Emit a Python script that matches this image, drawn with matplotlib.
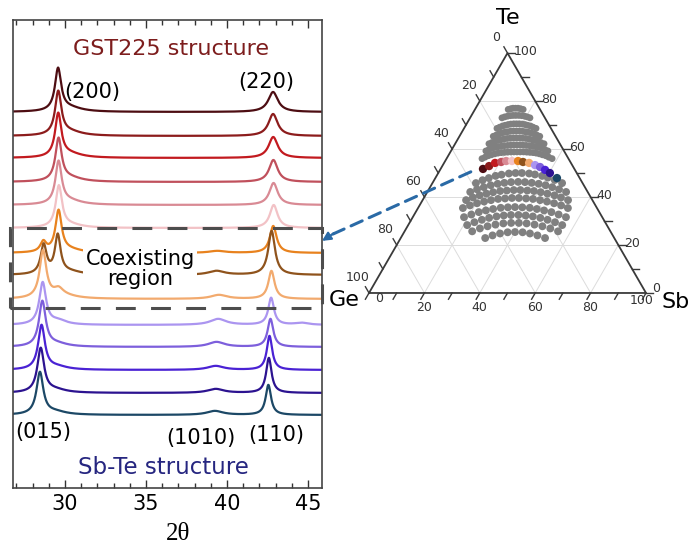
import numpy as np
import matplotlib.pyplot as plt
from matplotlib.patches import Rectangle, ConnectionPatch

# ---- XRD patterns, top (GST225 side) to bottom (Sb-Te side) ----
curve_colors = ['#4d0d12', '#8c1c1c', '#c21a1f', '#c0505c', '#d98a94', '#f2c2c6',
                '#e8821e', '#8f531c', '#f2aa6e',
                '#ab95f0', '#7d5fdc', '#4a22d4', '#2c1390', '#1c4866']
# vertical offset of each pattern (stacking)
curve_offsets = [376, 352, 330, 306, 283, 260, 235, 213, 189, 163, 141, 118, 95, 73]

# peaks of each pattern: position (2theta), height, half width
peak_pos = [
    [29.57, 30.3, 42.84],
    [29.58, 30.3, 42.84],
    [29.58, 30.3, 42.85],
    [29.60, 30.3, 42.86],
    [29.60, 30.3, 42.87],
    [29.62, 30.3, 42.88],
    [28.66, 29.60, 30.3, 39.4, 42.85],
    [28.68, 29.55, 30.3, 39.35, 42.75],
    [28.64, 29.60, 29.9, 39.5, 42.74],
    [28.62, 29.6, 39.45, 42.72, 44.6],
    [28.60, 29.5, 39.35, 42.68],
    [28.55, 29.5, 39.3, 42.62],
    [28.50, 29.4, 39.3, 42.58],
    [28.45, 29.4, 39.25, 42.55],
]
peak_height = [
    [42, 4, 20],
    [43, 4, 22],
    [43, 4, 21],
    [42, 4, 22],
    [42, 4, 22],
    [41, 3, 23],
    [10, 41, 3, 2, 27],
    [29, 38, 3, 4, 44],
    [47, 7, 3, 4, 28],
    [42, 4, 6, 27, 2],
    [45, 3, 5, 28],
    [44, 3, 4, 34],
    [44, 3, 4, 35],
    [42, 3, 4, 30],
]
peak_hwhm = [
    [0.23, 0.9, 0.36],
    [0.23, 0.9, 0.34],
    [0.23, 0.9, 0.34],
    [0.23, 0.9, 0.32],
    [0.23, 0.9, 0.31],
    [0.23, 0.9, 0.29],
    [0.22, 0.23, 0.9, 0.6, 0.25],
    [0.22, 0.21, 0.9, 0.6, 0.25],
    [0.25, 0.35, 1.0, 0.6, 0.23],
    [0.25, 0.6, 0.6, 0.21, 0.5],
    [0.25, 0.8, 0.6, 0.21],
    [0.25, 0.8, 0.6, 0.20],
    [0.25, 0.8, 0.6, 0.20],
    [0.25, 0.8, 0.6, 0.20],
]

x_major = [30, 35, 40, 45]

# ---- ternary map (at.% Sb, at.% Te) ----
# dense rows above the measured line
upper_sb_rows = [
    [12.0, 12.8, 13.5, 14.4, 15.3, 16.3, 17.4],
    [11.5, 12.3, 13.2, 14.1, 15.0, 16.0, 17.1, 18.2, 19.3, 20.4, 21.6],
    [11.9, 12.6, 13.4, 14.2, 15.1, 16.0, 17.0, 18.0, 19.0, 20.1, 21.2, 22.3, 23.5, 24.7, 26.0],
    [12.2, 13.0, 13.8, 14.6, 15.5, 16.4, 17.4, 18.4, 19.5, 20.6, 21.7, 22.8, 24.0, 25.2,
     26.5, 27.7, 29.0],
    [12.2, 13.0, 13.9, 14.8, 15.8, 16.7, 17.7, 18.7, 19.8, 20.9, 22.1, 23.2, 24.4, 25.6,
     26.9, 28.1, 29.4, 30.7, 32.1],
    [12.6, 13.4, 14.3, 15.2, 16.2, 17.2, 18.2, 19.3, 20.4, 21.5, 22.6, 23.7, 24.8, 26.0,
     27.2, 28.4, 29.6, 30.9, 32.3, 33.6, 35.0],
    [12.8, 13.6, 14.5, 15.4, 16.4, 17.4, 18.5, 19.6, 20.7, 21.8, 22.9, 24.0, 25.2, 26.4,
     27.6, 28.8, 30.0, 31.2, 32.5, 33.8, 35.2, 36.6, 38.1],
]
upper_te_rows = [
    [76.5, 76.8, 77.0, 77.0, 77.0, 76.8, 76.5],
    [73.0, 73.4, 73.7, 73.9, 74.0, 74.0, 74.0, 73.9, 73.7, 73.4, 73.0],
    [68.6, 69.1, 69.6, 69.9, 70.2, 70.4, 70.5, 70.5, 70.5, 70.4, 70.2, 69.9, 69.6, 69.1, 68.6],
    [65.3, 65.8, 66.3, 66.7, 67.0, 67.2, 67.4, 67.5, 67.5, 67.5, 67.4, 67.2, 67.0, 66.7,
     66.3, 65.8, 65.3],
    [62.2, 62.7, 63.2, 63.6, 63.9, 64.2, 64.4, 64.5, 64.6, 64.6, 64.6, 64.5, 64.4, 64.2,
     63.9, 63.6, 63.2, 62.7, 62.2],
    [59.2, 59.8, 60.3, 60.7, 61.0, 61.2, 61.4, 61.5, 61.6, 61.7, 61.7, 61.7, 61.6, 61.5,
     61.4, 61.2, 61.0, 60.7, 60.3, 59.8, 59.2],
    [56.0, 56.6, 57.2, 57.6, 58.0, 58.3, 58.5, 58.6, 58.7, 58.8, 58.8, 58.8, 58.8, 58.8,
     58.7, 58.6, 58.5, 58.3, 58.0, 57.6, 57.2, 56.6, 56.0],
]
# sparser rows below the measured line
lower_sb_rows = [
    [15.7, 17.5, 19.3, 21.3, 23.2, 25.6, 27.9, 30.2, 32.9, 35.2, 38.1, 40.5, 43.5, 46.8],
    [15.5, 17.4, 19.4, 21.5, 23.7, 25.9, 28.2, 30.7, 33.2, 35.8, 38.5, 41.3, 44.1, 47.0, 50.1],
    [15.7, 17.6, 19.6, 21.7, 23.8, 26.1, 28.4, 30.8, 33.2, 35.8, 38.3, 41.0, 43.7, 46.6,
     49.4, 52.5],
    [16.2, 18.2, 20.3, 22.5, 24.7, 27.0, 29.4, 31.8, 34.3, 37.0, 39.6, 42.4, 45.2, 48.1,
     51.1, 54.1],
    [18.5, 20.6, 22.8, 25.0, 27.3, 29.8, 32.3, 34.8, 37.5, 40.3, 43.1, 46.0, 49.0, 52.1, 55.3],
    [21.3, 23.3, 25.5, 27.7, 30.1, 32.5, 35.0, 37.7, 40.4, 43.2, 46.2, 49.2, 52.4, 55.6],
    [24.4, 26.6, 28.9, 31.4, 34.0, 36.7, 39.5, 42.4, 45.5, 48.7, 52.0, 55.4],
    [30.5, 32.6, 34.9, 37.4, 40.0, 42.8, 45.7, 48.8, 52.1],
]
lower_te_rows = [
    [45.8, 47.0, 47.9, 48.8, 49.3, 49.8, 50.0, 50.0, 49.8, 49.4, 48.8, 48.1, 47.1, 45.8],
    [42.1, 43.2, 44.1, 44.9, 45.5, 45.9, 46.2, 46.3, 46.2, 45.9, 45.5, 44.9, 44.1, 43.2, 42.1],
    [38.7, 39.8, 40.7, 41.4, 42.0, 42.5, 42.7, 42.9, 42.9, 42.7, 42.5, 42.0, 41.4, 40.7,
     39.8, 38.7],
    [35.4, 36.5, 37.4, 38.1, 38.7, 39.2, 39.4, 39.6, 39.6, 39.4, 39.2, 38.7, 38.1, 37.4,
     36.5, 35.4],
    [31.6, 32.7, 33.7, 34.4, 35.0, 35.5, 35.7, 35.8, 35.7, 35.5, 35.0, 34.4, 33.7, 32.7, 31.6],
    [28.3, 29.5, 30.5, 31.3, 31.9, 32.3, 32.5, 32.5, 32.3, 31.9, 31.3, 30.5, 29.5, 28.3],
    [25.7, 26.9, 27.8, 28.5, 29.0, 29.2, 29.2, 29.0, 28.5, 27.8, 26.9, 25.7],
    [22.9, 24.0, 24.8, 25.3, 25.4, 25.3, 24.8, 24.0, 22.9],
]
# the 14 measured compositions (same order as the patterns)
meas_sb = [15.3, 16.9, 18.4, 20.4, 22.0, 24.1, 26.3, 28.3, 30.7, 33.3, 35.5, 37.9, 40.3, 43.9]
meas_te = [51.7, 52.9, 54.2, 54.6, 55.0, 55.0, 55.0, 54.6, 54.2, 53.3, 52.5, 51.3, 50.0, 47.9]

tern_ticks = [0, 20, 40, 60, 80, 100]

# ---------------------------------------------------------------
fig = plt.figure(figsize=(6.88, 5.46), dpi=100)
ax = fig.add_axes([12.7 / 688, 58 / 546, 309.3 / 688, 468 / 546])

two_theta = np.linspace(26.6, 46.0, 1500)
for i in range(len(curve_colors)):
    y = np.full_like(two_theta, curve_offsets[i], dtype=float)
    for c, h, w in zip(peak_pos[i], peak_height[i], peak_hwhm[i]):
        y += h / (1 + ((two_theta - c) / w) ** 2)
    ax.plot(two_theta, y, color=curve_colors[i], lw=1.6, zorder=2 + i * 0.01)

ax.set_xlim(26.77, 45.86)
ax.set_ylim(0, 468)
ax.set_yticks([])
ax.set_xticks(x_major)
ax.set_xticks(np.arange(27, 46, 1), minor=True)
ax.tick_params(axis='x', which='both', direction='in', top=True, labelsize=15,
               pad=4, colors='#333333', labelcolor='black')
ax.tick_params(axis='x', which='major', length=6, width=1)
ax.tick_params(axis='x', which='minor', length=3.5, width=1)
for s in ax.spines.values():
    s.set_color('#444444')
    s.set_linewidth(1.2)
ax.set_xlabel('2θ', fontsize=18, family='Liberation Serif')
ax.xaxis.set_label_coords(0.535, -0.075)

ax.text(36.54, 439, 'GST225 structure', fontsize=16, color='#7d1d1d',
        ha='center', va='center')
ax.text(29.95, 396, '(200)', fontsize=15, ha='left', va='center')
ax.text(42.41, 406, '(220)', fontsize=15, ha='center', va='center')
ax.text(26.9, 56, '(015)', fontsize=15, ha='left', va='center')
ax.text(38.4, 50, '(1010)', fontsize=15, ha='center', va='center')
ax.text(43.02, 53, '(110)', fontsize=15, ha='center', va='center')
ax.text(36.05, 20, 'Sb-Te structure', fontsize=16.5, color='#262680',
        ha='center', va='center')
ax.text(34.63, 219, 'Coexisting\nregion', fontsize=15, ha='center', va='center',
        linespacing=1.05, zorder=6,
        bbox=dict(facecolor='white', edgecolor='none', pad=1.5))

ax.add_patch(Rectangle((-0.009, 0.3846), 1.009, 0.171, transform=ax.transAxes,
                       fill=False, edgecolor='#4d4d4d', lw=2.2,
                       linestyle=(0, (6.5, 5)), clip_on=False, zorder=7))

# ---- ternary ----
tax = fig.add_axes([340 / 688, 216 / 546, 348 / 688, 330 / 546])
tax.set_xlim(-10.47, 115.16)
tax.set_ylim(-13.36, 105.75)
tax.axis('off')
h3 = np.sqrt(3) / 2


def txy(sb, te):
    sb = np.asarray(sb, dtype=float)
    te = np.asarray(te, dtype=float)
    return sb + te / 2, te * h3


# grid
for v in [20, 40, 60, 80]:
    tax.plot(*txy([0, 100 - v], [v, v]), color='#dcdcdc', lw=0.7, zorder=1)
    tax.plot(*txy([v, v], [0, 100 - v]), color='#dcdcdc', lw=0.7, zorder=1)
    tax.plot(*txy([100 - v, 0], [0, 100 - v]), color='#dcdcdc', lw=0.7, zorder=1)

tax.plot(*txy([0, 100, 0, 0], [0, 0, 100, 0]), color='#3a3a3a', lw=1.3, zorder=2)

tl = 2.6
for v in range(0, 101, 10):
    bx, by = txy(v, 0)
    tax.plot([bx, bx - 0.5 * tl], [by, by - h3 * tl], color='#3a3a3a', lw=1)
    rx, ry = txy(100 - v, v)
    tax.plot([rx, rx + tl], [ry, ry], color='#3a3a3a', lw=1)
    lx, ly = txy(0, 100 - v)
    tax.plot([lx, lx - 0.5 * tl], [ly, ly + h3 * tl], color='#3a3a3a', lw=1)

bot_dx = [3.5, 0, 0, 0, 0, -1.5]
bot_dy = [-2.0, -5.2, -5.2, -5.2, -5.2, -2.6]
for k, v in enumerate(tern_ticks):
    bx, by = txy(v, 0)
    tax.text(bx + bot_dx[k], by + bot_dy[k], str(v), fontsize=9, color='#333333',
             ha='center', va='center')
    rx, ry = txy(100 - v, v)
    tax.text(rx + 2.2, ry + (1.6 if v == 0 else 0.5), str(v), fontsize=9,
             color='#333333', ha='left', va='center')
    lx, ly = txy(0, 100 - v)
    tax.text(lx - 4.0, ly + 5.5, str(v), fontsize=9, color='#333333',
             ha='center', va='center')

tax.text(50, 99.3, 'Te', fontsize=16, ha='center', va='center')
tax.text(-9.0, -2.5, 'Ge', fontsize=16, ha='center', va='center')
tax.text(110.6, -3.4, 'Sb', fontsize=16, ha='center', va='center')

for sbr, ter in zip(upper_sb_rows, upper_te_rows):
    gx, gy = txy(sbr, ter)
    tax.scatter(gx, gy, s=24, color='#808080', edgecolors='none', zorder=3)
for sbr, ter in zip(lower_sb_rows, lower_te_rows):
    gx, gy = txy(sbr, ter)
    tax.scatter(gx, gy, s=32, color='#808080', edgecolors='none', zorder=3)
mx, my = txy(meas_sb, meas_te)
tax.scatter(mx, my, s=36, c=curve_colors, edgecolors='none', zorder=4)

# dashed arrow from the measured row to the coexisting box
start = txy(11.5, 50.5)
con = ConnectionPatch(xyA=(float(start[0]), float(start[1])), coordsA=tax.transData,
                      xyB=(1.03, 0.541), coordsB=ax.transAxes,
                      arrowstyle='-', color='#2a6aa6', lw=2.2,
                      linestyle=(0, (4, 2.5)), zorder=8)
fig.add_artist(con)
ax.annotate('', xy=(1.0, 0.528), xycoords='axes fraction',
            xytext=(1.04, 0.545), textcoords='axes fraction',
            arrowprops=dict(arrowstyle='-|>', color='#2a6aa6', lw=1.5,
                            mutation_scale=13, shrinkA=0, shrinkB=0),
            annotation_clip=False, zorder=8)

fig.savefig('out.png', dpi=100)
